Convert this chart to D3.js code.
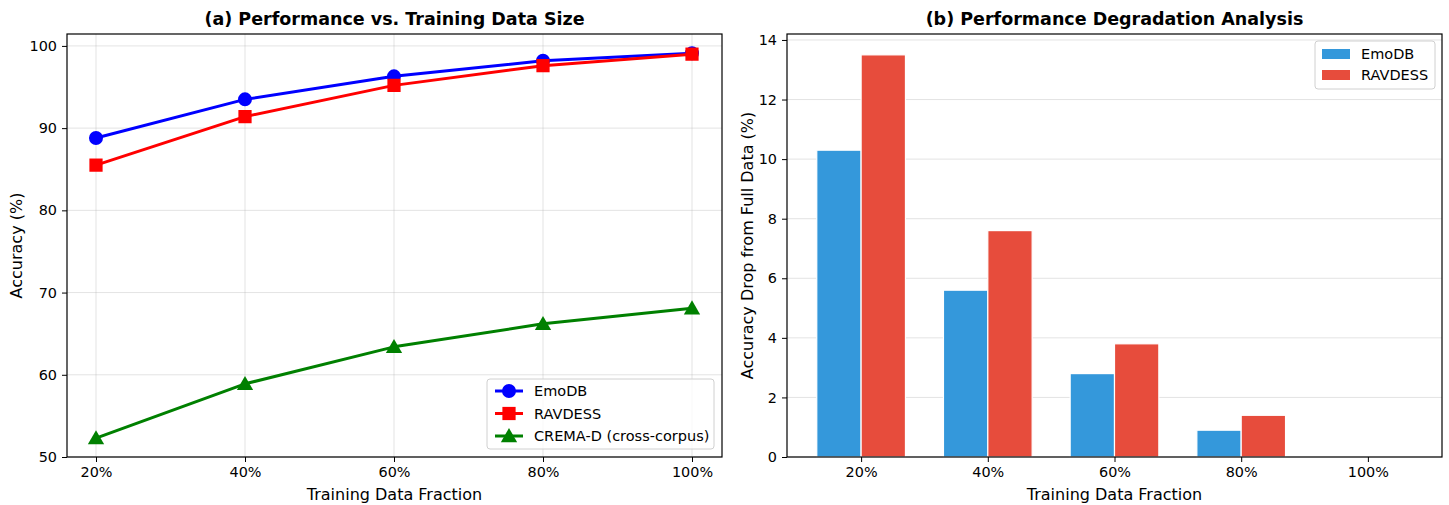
<!DOCTYPE html>
<html><head><meta charset="utf-8">
<script src="https://cdn.jsdelivr.net/npm/d3@7/dist/d3.min.js"></script>
<style>body{margin:0;background:#fff;} svg{display:block;font-family:"DejaVu Sans",sans-serif;}</style>
</head><body>
<svg id="c" width="1449" height="505"></svg>
<script>
const fractions = ["20%","40%","60%","80%","100%"];
const emodbAcc = [88.8, 93.5, 96.3, 98.2, 99.1];
const ravdessAcc = [85.5, 91.4, 95.2, 97.6, 99.0];
const cremaAcc = [52.3, 58.9, 63.4, 66.2, 68.1];
const emodbDrop = [10.3, 5.6, 2.8, 0.9, 0];
const ravdessDrop = [13.5, 7.6, 3.8, 1.4, 0];
const accTicks = [50, 60, 70, 80, 90, 100];
const dropTicks = [0, 2, 4, 6, 8, 10, 12, 14];

const svg = d3.select("#c");
const tickFs = 14.4, labFs = 16, titleFs = 17.5, legFs = 14.5;

function styleAxis(g){
  g.selectAll("path").remove();
  g.selectAll("line").attr("stroke","#000").attr("stroke-width",1);
  g.selectAll("text").attr("font-size",tickFs).attr("fill","#000").attr("font-family","DejaVu Sans");
}

// ---------- Panel A ----------
{
  const L=67,R=722,T=34,B=457;
  const x = d3.scalePoint().domain(fractions).range([96,692]);
  const y = d3.scaleLinear().domain([50,101.45]).range([B,T]);
  const g = svg.append("g");
  g.selectAll(".gy").data(accTicks).join("line").attr("x1",L).attr("x2",R)
    .attr("y1",d=>y(d)).attr("y2",d=>y(d)).attr("stroke","#b0b0b0").attr("stroke-opacity",0.35).attr("stroke-width",1);
  g.selectAll(".gx").data(fractions).join("line").attr("y1",T).attr("y2",B)
    .attr("x1",d=>x(d)).attr("x2",d=>x(d)).attr("stroke","#b0b0b0").attr("stroke-opacity",0.35).attr("stroke-width",1);
  g.append("g").attr("transform",`translate(0,${B})`).call(d3.axisBottom(x).tickSize(5).tickPadding(5)).call(styleAxis);
  g.append("g").attr("transform",`translate(${L},0)`).call(d3.axisLeft(y).tickValues(accTicks).tickSize(5).tickPadding(5)).call(styleAxis);
  g.append("rect").attr("x",L).attr("y",T).attr("width",R-L).attr("height",B-T).attr("fill","none").attr("stroke","#000").attr("stroke-width",1.2);
  const series = [
    {name:"EmoDB", vals:emodbAcc, color:"#0000ff", shape:"circle"},
    {name:"RAVDESS", vals:ravdessAcc, color:"#ff0000", shape:"square"},
    {name:"CREMA-D (cross-corpus)", vals:cremaAcc, color:"#008000", shape:"triangle"}
  ];
  const sym = {circle:d3.symbolCircle, square:d3.symbolSquare, triangle:d3.symbolTriangle};
  const sz = {circle:154, square:175, triangle:115};
  const line = d3.line().x((d,i)=>x(fractions[i])).y(d=>y(d));
  series.forEach(s=>{
    g.append("path").datum(s.vals).attr("d",line).attr("fill","none").attr("stroke",s.color).attr("stroke-width",3).attr("stroke-linejoin","round");
    g.selectAll(null).data(s.vals).join("path")
      .attr("transform",(d,i)=>`translate(${x(fractions[i])},${y(d)+(s.shape==="triangle"?1.5:0)})`)
      .attr("d",d3.symbol().type(sym[s.shape]).size(sz[s.shape])).attr("fill",s.color);
  });
  g.append("text").attr("x",(L+R)/2).attr("y",25).attr("text-anchor","middle").attr("font-size",titleFs).attr("font-weight","bold").text("(a) Performance vs. Training Data Size");
  g.append("text").attr("x",(L+R)/2).attr("y",500).attr("text-anchor","middle").attr("font-size",labFs).text("Training Data Fraction");
  g.append("text").attr("transform",`translate(22,${(T+B)/2}) rotate(-90)`).attr("text-anchor","middle").attr("font-size",labFs).text("Accuracy (%)");
  const lg = g.append("g");
  lg.append("rect").attr("x",487).attr("y",379).attr("width",227).attr("height",70).attr("rx",3)
    .attr("fill","#fff").attr("fill-opacity",0.8).attr("stroke","#d0d0d0");
  series.forEach((s,i)=>{
    const yy = 391+i*22.5;
    lg.append("line").attr("x1",495).attr("x2",523).attr("y1",yy).attr("y2",yy).attr("stroke",s.color).attr("stroke-width",3);
    lg.append("path").attr("transform",`translate(509,${yy+(s.shape==="triangle"?1.5:0)})`).attr("d",d3.symbol().type(sym[s.shape]).size(sz[s.shape])).attr("fill",s.color);
    lg.append("text").attr("x",534).attr("y",yy+5).attr("font-size",legFs).text(s.name);
  });
}

// ---------- Panel B ----------
{
  const L=787,R=1442,T=34,B=457;
  const idx = d3.range(fractions.length);
  const x = d3.scaleLinear().domain([-0.585,4.585]).range([L,R]);
  const y = d3.scaleLinear().domain([0,14.2]).range([B,T]);
  const g = svg.append("g");
  g.selectAll(".gy").data(dropTicks).join("line").attr("x1",L).attr("x2",R)
    .attr("y1",d=>y(d)).attr("y2",d=>y(d)).attr("stroke","#b0b0b0").attr("stroke-opacity",0.35).attr("stroke-width",1);
  const w = 0.35;
  const sets = [{name:"EmoDB", vals:emodbDrop, color:"#3498db", off:-w/2},{name:"RAVDESS", vals:ravdessDrop, color:"#e74c3c", off:w/2}];
  sets.forEach(s=>{
    g.selectAll(null).data(s.vals).join("rect")
      .attr("x",(d,i)=>x(i+s.off-w/2)).attr("width",x(w)-x(0))
      .attr("y",d=>y(d)).attr("height",d=>y(0)-y(d))
      .attr("fill",s.color).attr("stroke","#fff").attr("stroke-width",1.2);
  });
  g.append("g").attr("transform",`translate(0,${B})`).call(d3.axisBottom(x).tickValues(idx).tickFormat(i=>fractions[i]).tickSize(5).tickPadding(5)).call(styleAxis);
  g.append("g").attr("transform",`translate(${L},0)`).call(d3.axisLeft(y).tickValues(dropTicks).tickSize(5).tickPadding(5)).call(styleAxis);
  g.append("rect").attr("x",L).attr("y",T).attr("width",R-L).attr("height",B-T).attr("fill","none").attr("stroke","#000").attr("stroke-width",1.2);
  g.append("text").attr("x",(L+R)/2).attr("y",25).attr("text-anchor","middle").attr("font-size",titleFs).attr("font-weight","bold").text("(b) Performance Degradation Analysis");
  g.append("text").attr("x",(L+R)/2).attr("y",500).attr("text-anchor","middle").attr("font-size",labFs).text("Training Data Fraction");
  g.append("text").attr("transform",`translate(753,${(T+B)/2}) rotate(-90)`).attr("text-anchor","middle").attr("font-size",labFs).text("Accuracy Drop from Full Data (%)");
  const lg = g.append("g");
  lg.append("rect").attr("x",1315).attr("y",41).attr("width",120).attr("height",48).attr("rx",3)
    .attr("fill","#fff").attr("fill-opacity",0.8).attr("stroke","#d0d0d0");
  sets.forEach((s,i)=>{
    const yy = 54+i*21;
    lg.append("rect").attr("x",1322).attr("y",yy-5).attr("width",28).attr("height",10).attr("fill",s.color);
    lg.append("text").attr("x",1361).attr("y",yy+5).attr("font-size",legFs).text(s.name);
  });
}
</script>
</body></html>
